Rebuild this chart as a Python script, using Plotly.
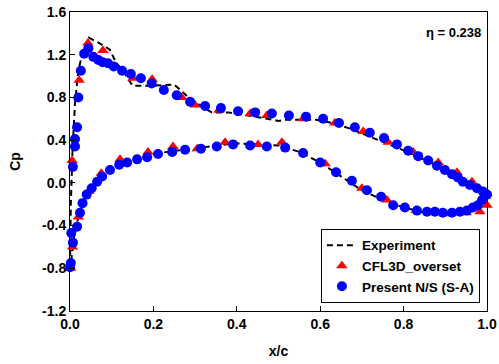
import plotly.graph_objects as go

# Experiment (dashed line), ordered lower TE -> LE -> upper TE
exp_x = [1.0, 0.98, 0.95, 0.90, 0.85, 0.80, 0.75, 0.70, 0.65, 0.60, 0.55, 0.50, 0.45, 0.40,
         0.35, 0.30, 0.25, 0.20, 0.15, 0.12, 0.10, 0.08, 0.06, 0.04, 0.03, 0.02, 0.01, 0.005, 0.0,
         0.002, 0.006, 0.012, 0.02, 0.03, 0.045, 0.065, 0.095, 0.11, 0.13, 0.15, 0.19, 0.25,
         0.265, 0.29, 0.34, 0.38, 0.46, 0.50, 0.52, 0.59, 0.63, 0.67, 0.74, 0.815, 0.887, 0.942,
         0.976, 1.0]
exp_y = [-0.12, -0.22, -0.27, -0.29, -0.28, -0.23, -0.16, -0.07, 0.06, 0.19, 0.29, 0.35, 0.36, 0.37,
         0.35, 0.32, 0.30, 0.27, 0.21, 0.17, 0.13, 0.08, 0.0, -0.12, -0.20, -0.32, -0.50, -0.65, -0.82,
         -0.2, 0.3, 0.75, 1.05, 1.22, 1.36, 1.32, 1.25, 1.13, 1.03, 0.91, 0.91, 0.92,
         0.87, 0.78, 0.66, 0.66, 0.61, 0.58, 0.59, 0.59, 0.56, 0.51, 0.40, 0.28, 0.15, 0.03,
         -0.07, -0.12]

# CFL3D_overset (red triangles)
cfl_x = [0.005, 0.022, 0.043, 0.079, 0.151, 0.197, 0.268, 0.30, 0.357, 0.432, 0.472, 0.559, 0.635,
         0.703, 0.763, 0.823, 0.883, 0.928, 0.964, 1.0,
         0.002, 0.006, 0.02, 0.045, 0.075, 0.12, 0.187, 0.247, 0.305, 0.372, 0.451, 0.508, 0.612,
         0.70, 0.76, 0.83, 0.90, 0.95, 0.983, 1.0]
cfl_y = [0.21, 0.96, 1.31, 1.24, 0.98, 0.97, 0.80, 0.73, 0.68, 0.65, 0.63, 0.60, 0.56,
         0.48, 0.38, 0.29, 0.19, 0.10, 0.01, -0.10,
         -0.80, -0.60, -0.32, -0.08, 0.09, 0.22, 0.29, 0.34, 0.32, 0.38, 0.36, 0.38, 0.18,
         -0.05, -0.16, -0.26, -0.29, -0.28, -0.27, -0.21]

# Present N/S (S-A) (blue circles)
ns_x = [0.007, 0.012, 0.012, 0.017, 0.02, 0.026, 0.034, 0.044, 0.056, 0.068, 0.078, 0.091, 0.105,
        0.125, 0.146, 0.170, 0.196, 0.225, 0.256, 0.288, 0.324, 0.362, 0.403, 0.444, 0.484, 0.525,
        0.566, 0.607, 0.645, 0.683, 0.719, 0.753, 0.784, 0.811, 0.835, 0.859, 0.880, 0.899, 0.916,
        0.930, 0.942, 0.959, 0.976, 0.990, 1.0,
        0.0, 0.002, 0.007, 0.003, 0.017, 0.024, 0.03, 0.04, 0.052, 0.065, 0.077, 0.096, 0.118,
        0.137, 0.161, 0.185, 0.211, 0.245, 0.276, 0.314, 0.352, 0.391, 0.432, 0.472, 0.516, 0.559,
        0.600, 0.638, 0.676, 0.712, 0.746, 0.775, 0.803, 0.832, 0.856, 0.875, 0.894, 0.916, 0.935,
        0.952, 0.966, 0.978, 0.988, 0.995]
ns_y = [0.15, 0.34, 0.41, 0.52, 0.80, 1.05, 1.21, 1.26, 1.18, 1.15, 1.13, 1.12, 1.09,
        1.05, 1.02, 0.98, 0.93, 0.87, 0.82, 0.76, 0.72, 0.70, 0.67, 0.66, 0.65, 0.63,
        0.62, 0.60, 0.56, 0.52, 0.47, 0.42, 0.36, 0.30, 0.25, 0.21, 0.16, 0.12, 0.08,
        0.05, 0.01, -0.02, -0.05, -0.08, -0.11,
        -0.79, -0.75, -0.56, -0.47, -0.41, -0.28, -0.19, -0.11, -0.05, 0.01, 0.06, 0.12, 0.17,
        0.19, 0.22, 0.24, 0.27, 0.29, 0.31, 0.32, 0.34, 0.36, 0.35, 0.34, 0.33, 0.28,
        0.19, 0.10, 0.02, -0.07, -0.13, -0.21, -0.23, -0.26, -0.27, -0.27, -0.28, -0.28, -0.27,
        -0.26, -0.23, -0.21, -0.16, -0.11]

x_ticks = [0.0, 0.2, 0.4, 0.6, 0.8, 1.0]
x_ticklabels = ["0.0", "0.2", "0.4", "0.6", "0.8", "1.0"]
y_ticks = [-1.2, -0.8, -0.4, 0.0, 0.4, 0.8, 1.2, 1.6]
y_ticklabels = ["-1.2", "-0.8", "-0.4", "0.0", "0.4", "0.8", "1.2", "1.6"]

FONT = "Liberation Sans, Arial, sans-serif"

fig = go.Figure()
fig.add_trace(go.Scatter(x=exp_x, y=exp_y, mode="lines", name="<b>Experiment</b>",
                         line=dict(color="black", width=2, dash="6px,4px"), cliponaxis=False))
fig.add_trace(go.Scatter(x=cfl_x, y=cfl_y, mode="markers", name="<b>CFL3D_overset</b>",
                         marker=dict(symbol="triangle-up", size=10, color="#ff0000", line=dict(width=0)),
                         cliponaxis=False))
fig.add_trace(go.Scatter(x=ns_x, y=ns_y, mode="markers", name="<b>Present N/S (S-A)</b>",
                         marker=dict(symbol="circle", size=10, color="#0000ff", line=dict(width=0)),
                         cliponaxis=False))

axis_common = dict(showline=True, linecolor="black", linewidth=1, mirror=True,
                   ticks="inside", ticklen=5, tickcolor="black", showgrid=False, zeroline=False,
                   automargin=False,
                   tickfont=dict(family=FONT, size=14, color="black"))

fig.update_layout(
    width=499, height=364,
    margin=dict(l=70, r=12, t=12, b=53),
    plot_bgcolor="white", paper_bgcolor="white",
    font=dict(family=FONT, color="black"),
    xaxis=dict(range=[0, 1], tickvals=x_ticks, ticktext=["<b>%s</b>" % t for t in x_ticklabels],
               title=dict(text="<b>x/c</b>", font=dict(family=FONT, size=14), standoff=15),
               **axis_common),
    yaxis=dict(range=[-1.2, 1.6], tickvals=y_ticks, ticktext=["<b>%s</b>" % t for t in y_ticklabels],
               title=dict(text="<b>Cp</b>", font=dict(family=FONT, size=14), standoff=18),
               **axis_common),
    legend=dict(x=0.983, xanchor="right", y=0.027, yanchor="bottom",
                bgcolor="white", bordercolor="black", borderwidth=1,
                font=dict(family=FONT, size=13.5),
                tracegroupgap=0, itemwidth=30),
    showlegend=True,
    annotations=[dict(text="<b>η = 0.238</b>", xref="paper", yref="paper", x=0.99, y=0.93,
                      xanchor="right", yanchor="middle", showarrow=False,
                      font=dict(family=FONT, size=13, color="black"))],
)

# remove the browser's default 8px body margin so the figure fills the window
fig.write_html("out.html", config={"displayModeBar": False},
               post_script="document.body.style.margin='0px';")
